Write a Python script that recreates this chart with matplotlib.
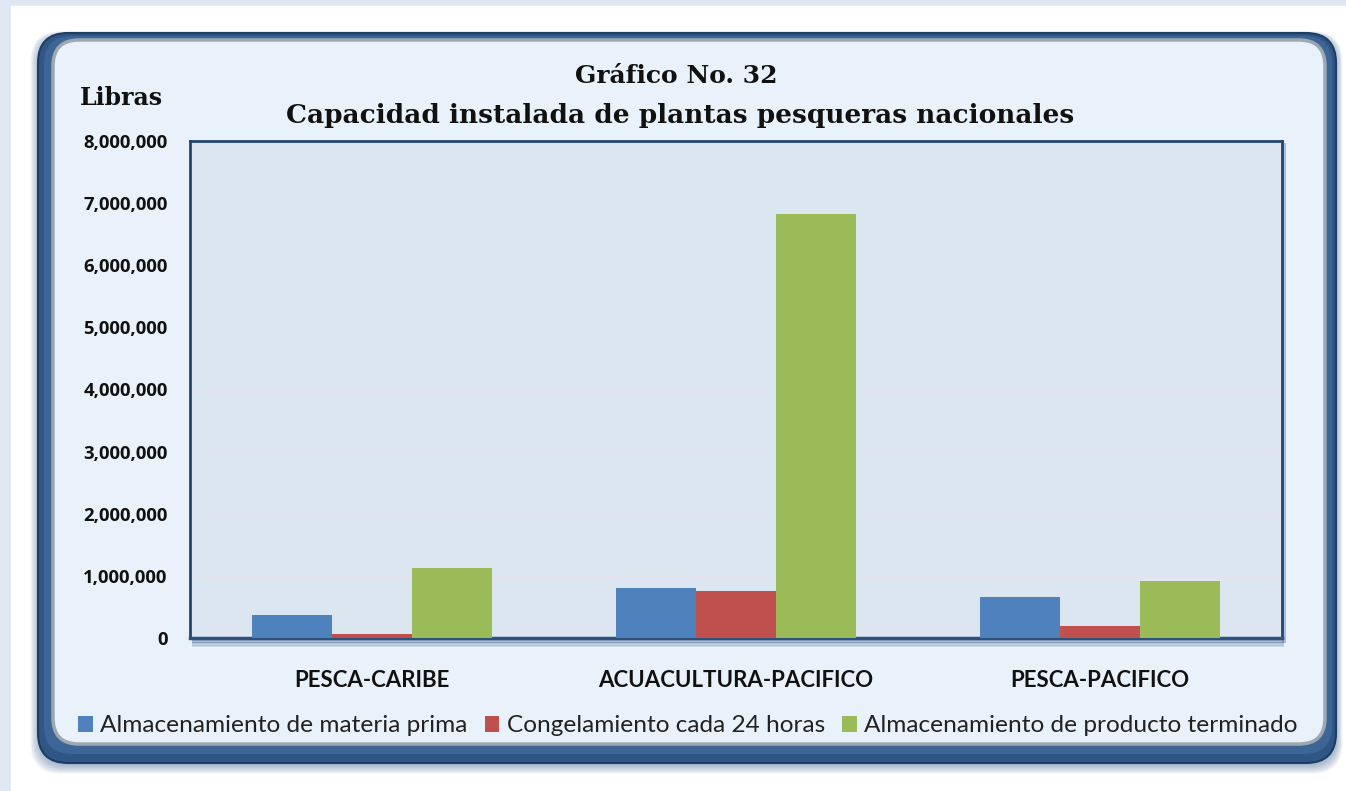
import matplotlib
matplotlib.use('Agg')
import matplotlib.pyplot as plt
from matplotlib.patches import FancyBboxPatch, Rectangle
from matplotlib.ticker import FuncFormatter, MultipleLocator
import numpy as np

categories = ['PESCA-CARIBE', 'ACUACULTURA-PACIFICO', 'PESCA-PACIFICO']
series_names = ['Almacenamiento de materia prima',
                'Congelamiento cada 24 horas',
                'Almacenamiento de producto terminado']
materia_prima = [370000, 810000, 655000]
congelamiento = [60000, 760000, 195000]
producto_terminado = [1125000, 6830000, 920000]
series_values = [materia_prima, congelamiento, producto_terminado]
colors = ['#4F81BD', '#C0504D', '#9BBB59']

title_lines = ['Gráfico No. 32', 'Capacidad instalada de plantas pesqueras nacionales']
y_label = 'Libras'

W, H = 1346, 791
fig = plt.figure(figsize=(W / 100, H / 100), dpi=100)

# background / frame layer (pixel coordinates)
bg = fig.add_axes([0, 0, 1, 1])
bg.set_xlim(0, W)
bg.set_ylim(H, 0)
bg.axis('off')
bg.add_patch(Rectangle((0, 0), W, H, color='#dfe8f2', zorder=0))
bg.add_patch(Rectangle((11, 6), W - 11, H - 6, color='white', zorder=0.1))

# soft outer shadow
for k in range(10, 0, -1):
    e = k * 1.6
    bg.add_patch(FancyBboxPatch((40 - e * 0.6, 36 - e * 0.3), 1296 + e * 1.0, 728 + e * 0.9,
                                boxstyle='round,pad=0,rounding_size=30',
                                fc='#5f7fa8', ec='none', alpha=0.07, zorder=1))
# dark band
bg.add_patch(FancyBboxPatch((38, 33), 1298, 730,
                            boxstyle='round,pad=0,rounding_size=30',
                            fc='#2f5684', ec='#1f3d63', lw=1.5, zorder=2))
bg.add_patch(FancyBboxPatch((44, 36), 1288, 718,
                            boxstyle='round,pad=0,rounding_size=28',
                            fc='#3d6595', ec='none', zorder=2.1))
# inner panel
bg.add_patch(FancyBboxPatch((53, 40), 1272, 704,
                            boxstyle='round,pad=0,rounding_size=26',
                            fc='#e9f2fb', ec='#9ea8b3', lw=2.5, zorder=3))

# shadow under plot area
for k in range(6):
    bg.add_patch(Rectangle((192, 638 + k * 1.4), 1092, 2.0,
                           fc='#3b5f8c', ec='none', alpha=0.55 - k * 0.08, zorder=3.5))
bg.add_patch(Rectangle((1282, 143), 4, 500, fc='#6f8bb0', ec='none', alpha=0.5, zorder=3.5))

# main plot
left, right, top, bottom = 190, 1282, 141, 638
ax = fig.add_axes([left / W, 1 - bottom / H, (right - left) / W, (bottom - top) / H])
ax.set_facecolor('#dce6f0')
x = np.arange(len(categories))
bw = 0.22
for i, (vals, c) in enumerate(zip(series_values, colors)):
    ax.bar(x + (i - 1) * bw, vals, width=bw, color=c, label=series_names[i], zorder=3)

ax.set_xlim(-0.5, len(categories) - 0.5)
ax.set_ylim(0, 8000000)
ax.yaxis.set_major_locator(MultipleLocator(1000000))
ax.yaxis.set_major_formatter(FuncFormatter(lambda v, p: f'{int(v):,}'))
ax.grid(axis='y', color='#e4e2ea', lw=1.0, zorder=1)
ax.set_axisbelow(True)
for s in ['left', 'top', 'right']:
    ax.spines[s].set_color('#23466f')
    ax.spines[s].set_linewidth(2)
ax.spines['bottom'].set_color('#2e517c')
ax.spines['bottom'].set_linewidth(2.5)
ax.tick_params(axis='both', length=0)
ax.tick_params(axis='y', pad=16)
ax.tick_params(axis='x', pad=23)
ax.set_xticks(x)
ax.set_xticklabels(categories, fontsize=16, fontweight='bold', family='Lato', color='#111111')
for t in ax.get_yticklabels():
    t.set_fontsize(13.3)
    t.set_fontweight('bold')
    t.set_family('Open Sans')
    t.set_color('#111111')

# titles
fig.text(676 / W, 1 - 76 / H, title_lines[0], ha='center', va='center',
         fontsize=18, family='DejaVu Serif', fontweight='bold', color='#111111')
fig.text(680 / W, 1 - 115 / H, title_lines[1], ha='center', va='center',
         fontsize=19, family='DejaVu Serif', fontweight='bold', color='#111111')
fig.text(121 / W, 1 - 98 / H, y_label, ha='center', va='center',
         fontsize=17, family='DejaVu Serif', fontweight='bold', color='#111111')

# legend
handles, labels = ax.get_legend_handles_labels()
leg = fig.legend(handles, labels, loc='center', bbox_to_anchor=(688 / W, 1 - 726 / H),
                 ncol=3, frameon=False, handlelength=0.6, handleheight=0.6,
                 handletextpad=0.3, columnspacing=0.7, prop={'family': 'Lato', 'size': 17.6})
for t in leg.get_texts():
    t.set_color('#222222')

fig.savefig('out.png', dpi=100)
